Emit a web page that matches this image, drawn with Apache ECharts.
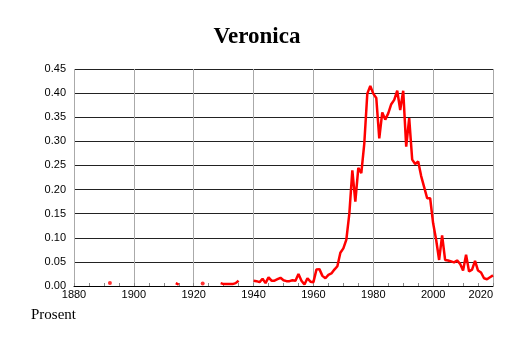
<!DOCTYPE html>
<html>
<head>
<meta charset="utf-8">
<style>
  html, body { margin: 0; padding: 0; background: #fff; }
  #chart { width: 514px; height: 343px; }
</style>
<script src="https://cdn.jsdelivr.net/npm/echarts@6/dist/echarts.min.js"></script>
</head>
<body>
<div id="chart"></div>
<script>
// share of newborns named Veronica, percent, one value per year from 1880
const firstYear = 1880
const values = [
  null, null, null, null, null, null, null, null, null, null, null, null,
  0.006,
  null, null, null, null, null, null, null, null, null, null, null, null, null, null, null, null, null, null, null, null, null,
  0.006, 0.003,
  null, null, null, null, null, null, null,
  0.005,
  null, null, null, null, null,
  0.006, 0.004, 0.004, 0.004, 0.004, 0.006, 0.011,
  null, null, null, null,
  // 1940
  0.011, 0.010, 0.008, 0.015, 0.006, 0.018, 0.011, 0.011, 0.014, 0.017,
  0.012, 0.010, 0.010, 0.012, 0.011, 0.025, 0.011, 0.003, 0.016, 0.009,
  // 1960
  0.008, 0.034, 0.035, 0.021, 0.016, 0.023, 0.026, 0.034, 0.041, 0.069,
  0.078, 0.096, 0.150, 0.240, 0.175, 0.245, 0.234, 0.296, 0.399, 0.415,
  // 1980
  0.399, 0.390, 0.306, 0.360, 0.345, 0.358, 0.377, 0.386, 0.405, 0.365,
  0.405, 0.289, 0.348, 0.262, 0.253, 0.258, 0.228, 0.205, 0.182, 0.182,
  // 2000
  0.130, 0.096, 0.054, 0.105, 0.054, 0.053, 0.051, 0.049, 0.053, 0.046,
  0.032, 0.065, 0.030, 0.034, 0.052, 0.032, 0.028, 0.016, 0.014, 0.018,
  0.022
]
const yTicks = ['0.00', '0.05', '0.10', '0.15', '0.20', '0.25', '0.30', '0.35', '0.40', '0.45']
const xTicks = [1880, 1900, 1920, 1940, 1960, 1980, 2000, 2020]

const lineData = values.map((v, i) => [firstYear + i, v])
// years with no neighbour on either side would vanish from the line, so draw them as dots
const dotData = lineData.filter((p, i) =>
  p[1] != null && values[i - 1] == null && values[i + 1] == null)

const chart = echarts.init(document.getElementById('chart'))

chart.setOption({
  animation: false,
  title: {
    text: 'Veronica',
    left: 'center',
    top: 21,
    textStyle: { fontFamily: 'Liberation Serif', fontWeight: 'bold', fontSize: 23, color: '#000' }
  },
  graphic: [{
    type: 'text',
    left: 31,
    top: 308,
    style: { text: 'Prosent', font: '15px "Liberation Serif"', fill: '#000' }
  }],
  grid: { left: 74, right: 21, top: 69, bottom: 57 },
  xAxis: {
    type: 'value',
    min: xTicks[0],
    max: xTicks[xTicks.length - 1],
    interval: 20,
    axisLine: { lineStyle: { color: '#000', width: 1 } },
    axisTick: { inside: true, length: 3, lineStyle: { color: '#888' } },
    minorTick: { show: true, splitNumber: 4, length: 3, lineStyle: { color: '#888' } },
    axisLabel: {
      color: '#000', fontFamily: 'Liberation Sans', fontSize: 11, margin: 3,
      alignMaxLabel: 'right',
      formatter: v => xTicks.includes(v) ? String(v) : ''
    },
    splitLine: { show: true, lineStyle: { color: '#aaa', width: 1 } }
  },
  yAxis: {
    type: 'value',
    min: 0,
    max: 0.45,
    interval: 0.05,
    axisLine: { show: false },
    axisTick: { show: false },
    axisLabel: {
      color: '#000', fontFamily: 'Liberation Sans', fontSize: 11, margin: 8,
      formatter: v => yTicks[Math.round(v / 0.05)]
    },
    splitLine: { lineStyle: { color: '#222', width: 1 } }
  },
  series: [
    {
      type: 'line',
      data: lineData,
      showSymbol: false,
      connectNulls: false,
      lineStyle: { color: '#ff0000', width: 2.5 },
      z: 3
    },
    {
      type: 'scatter',
      data: dotData,
      symbolSize: 4,
      itemStyle: { color: '#ff0000' },
      z: 3
    }
  ]
})
</script>
</body>
</html>
